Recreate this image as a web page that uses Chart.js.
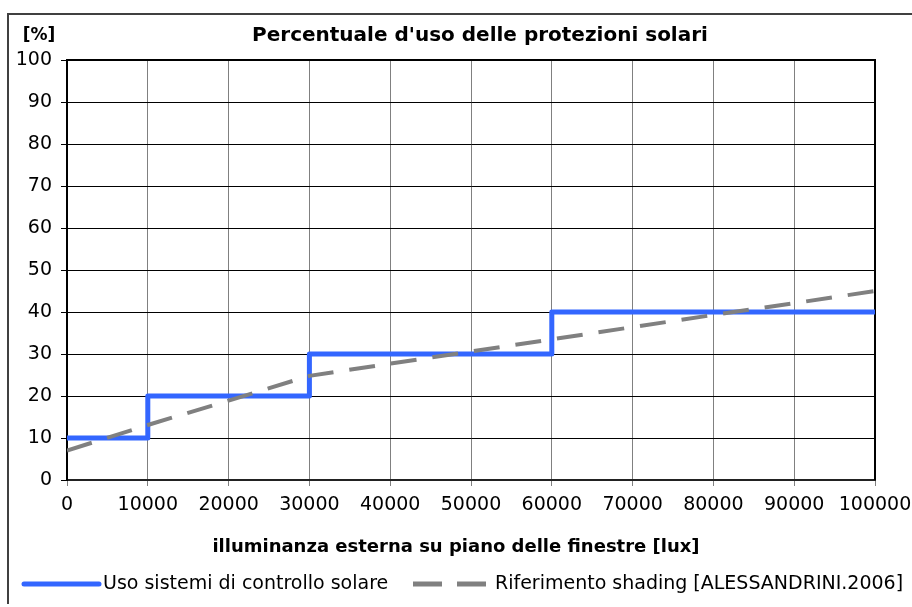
<!DOCTYPE html>
<html>
<head>
<meta charset="utf-8">
<script src="https://cdn.jsdelivr.net/npm/chart.js@4"></script>
<style>
  html, body { margin: 0; padding: 0; background: #fff; }
  #wrap { width: 912px; height: 607px; }
</style>
</head>
<body>
<div id="wrap"><canvas id="grafico" width="912" height="607"></canvas></div>
<script>
// dati
const luxUso = [0, 10000, 30000, 60000, 100000];
const percUso = [10, 20, 30, 40, 40];
const luxRif = [0, 10000, 20000, 30000, 40000, 50000, 60000, 70000, 80000, 90000, 100000];
const percRif = [7, 13.1, 18.9, 24.8, 27.7, 30.6, 33.5, 36.4, 39.3, 42.1, 45];

const titolo = "Percentuale d'uso delle protezioni solari";
const titoloY = "[%]";
const titoloX = "illuminanza esterna su piano delle finestre [lux]";
const nomeUso = "Uso sistemi di controllo solare";
const nomeRif = "Riferimento shading [ALESSANDRINI.2006]";

const FONT = "'DejaVu Sans', 'Liberation Sans', Arial, sans-serif";
const BLU = "#3366ff";
const GRIGIO = "#808080";

// cornice, titoli e legenda disegnati a mano
const decorazioni = {
  id: 'decorazioni',
  beforeDatasetsDraw(chart) {
    const ctx = chart.ctx;
    const a = chart.chartArea;
    ctx.save();
    ctx.strokeStyle = "#000";
    ctx.lineWidth = 2;
    ctx.beginPath();
    ctx.moveTo(a.left, a.top);
    ctx.lineTo(a.right, a.top);
    ctx.lineTo(a.right, a.bottom);
    ctx.stroke();
    ctx.restore();
  },
  afterDraw(chart) {
    const ctx = chart.ctx;
    ctx.save();
    // bordo esterno
    ctx.strokeStyle = "#404040";
    ctx.lineWidth = 2;
    ctx.beginPath();
    ctx.moveTo(8, 604);
    ctx.lineTo(8, 14);
    ctx.lineTo(912, 14);
    ctx.stroke();

    ctx.fillStyle = "#000";
    ctx.textBaseline = "middle";
    ctx.textAlign = "center";
    ctx.font = "bold 20px " + FONT;
    ctx.fillText(titolo, 480, 36);
    ctx.font = "bold 17px " + FONT;
    ctx.fillText(titoloY, 39, 36);
    ctx.font = "bold 18px " + FONT;
    ctx.fillText(titoloX, 456, 547);

    // legenda
    const yl = 584;
    ctx.lineWidth = 5;
    ctx.strokeStyle = BLU;
    ctx.lineCap = "round";
    ctx.beginPath();
    ctx.moveTo(24, yl);
    ctx.lineTo(99, yl);
    ctx.stroke();
    ctx.strokeStyle = GRIGIO;
    ctx.lineCap = "butt";
    ctx.beginPath();
    ctx.moveTo(413, yl);
    ctx.lineTo(442, yl);
    ctx.moveTo(457, yl);
    ctx.lineTo(486, yl);
    ctx.stroke();

    ctx.font = "19px " + FONT;
    ctx.textAlign = "left";
    ctx.fillText(nomeUso, 103, yl);
    ctx.fillText(nomeRif, 495, yl);
    ctx.restore();
  }
};

const serieUso = luxUso.map((x, i) => ({ x: x, y: percUso[i] }));
const serieRif = luxRif.map((x, i) => ({ x: x, y: percRif[i] }));

new Chart(document.getElementById('grafico'), {
  type: 'line',
  data: {
    datasets: [
      {
        label: nomeRif,
        data: serieRif,
        borderColor: GRIGIO,
        borderWidth: 4,
        borderDash: [26, 16],
        borderCapStyle: 'butt',
        pointRadius: 0,
        fill: false,
        tension: 0
      },
      {
        label: nomeUso,
        data: serieUso,
        stepped: 'before',
        borderColor: BLU,
        borderWidth: 5,
        borderJoinStyle: 'round',
        pointRadius: 0,
        fill: false
      }
    ]
  },
  options: {
    responsive: false,
    animation: false,
    layout: { padding: { left: 8, right: 37, top: 60, bottom: 80 } },
    plugins: {
      legend: { display: false },
      title: { display: false },
      tooltip: { enabled: false }
    },
    scales: {
      x: {
        type: 'linear',
        min: 0,
        max: 100000,
        ticks: {
          stepSize: 10000,
          color: '#000',
          padding: 8,
          maxRotation: 0,
          autoSkip: false,
          font: { family: FONT, size: 19 },
          callback: v => String(v)
        },
        grid: { color: GRIGIO, lineWidth: 1, tickLength: 6 },
        border: { color: '#222', width: 2 },
        afterFit: s => { s.height = 47; s.paddingRight = 0; s.paddingLeft = 0; }
      },
      y: {
        min: 0,
        max: 100,
        ticks: {
          stepSize: 10,
          color: '#000',
          padding: 9,
          font: { family: FONT, size: 19 }
        },
        grid: { color: '#000', lineWidth: 1, tickLength: 6 },
        border: { color: '#000', width: 2 },
        afterFit: s => { s.width = 59; }
      }
    }
  },
  plugins: [decorazioni]
});
</script>
</body>
</html>
